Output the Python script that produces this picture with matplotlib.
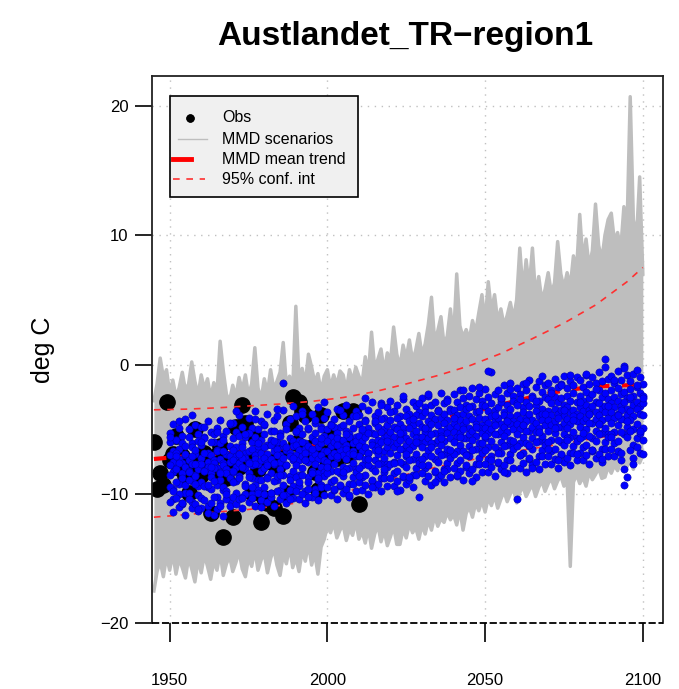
import numpy as np
import matplotlib
matplotlib.use('Agg')
import matplotlib.pyplot as plt
from matplotlib.lines import Line2D
from matplotlib.patches import Rectangle

plt.rcParams['font.family'] = ['Liberation Sans', 'DejaVu Sans']

# --- scenario envelope (grey), one value per year 1945-2100 ---
scen_years = np.arange(1945, 2101)
scen_hi = [-2.8, -1.5, 0.5, -1.0, -0.4, -2.2, -1.2, -2.5, -1.8, -0.6,
           -2.0, -1.5, 0.2, -1.3, -2.4, -0.8, -1.9, -1.1, -2.6, -1.4,
           -2.2, 1.8, -0.5, -2.3, -2.8, -1.6, -2.5, -1.0, -2.0, -0.8,
           -2.4, -1.5, 1.3, -1.8, -2.7, -1.1, -2.2, -0.4, -1.9, -1.3,
           -0.6, 1.7, -1.6, -0.9, -2.0, 4.5, -1.2, -0.3, -1.5, 0.8,
           -0.2, -1.4, -0.7, -2.1, -0.9, -0.4, -1.8, -0.8, -1.6, -0.5,
           -0.8, -2.0, -0.4, -1.3, -0.2, -0.9, -1.5, 0.6, -0.7, 2.5,
           -0.3, 0.4, 1.2, -0.6, 0.9, 0.2, 2.9, 0.8, -0.2, 1.5,
           0.5, 1.9, 0.3, 1.1, 2.4, 0.7, 1.6, 3.1, 5.2, 1.8,
           2.6, 3.7, 1.5, 2.2, 4.3, 2.0, 7.0, 3.0, 2.1, 2.7,
           1.9, 3.4, 2.5, 4.0, 5.4, 3.2, 6.4, 4.1, 5.4, 3.3,
           4.3, 3.0, 3.8, 4.8, 3.5, 5.0, 9.0, 5.6, 8.1, 6.0,
           9.0, 5.3, 6.8, 4.9, 5.8, 7.1, 5.5, 6.3, 9.5, 7.0,
           5.9, 7.1, 6.0, 8.4, 7.3, 11.6, 8.0, 9.7, 7.5, 8.8,
           12.4, 9.2, 8.1, 10.0, 11.2, 11.7, 9.5, 10.2, 8.9, 12.2,
           10.6, 20.7, 11.2, 9.8, 14.5, 7.0]
scen_lo = [-17.5, -16.0, -15.2, -16.4, -14.8, -15.9, -14.6, -16.2, -15.0, -15.7,
           -16.5, -14.9, -15.8, -16.8, -15.1, -16.1, -14.7, -15.6, -16.6, -15.2,
           -15.9, -14.5, -16.3, -15.4, -14.8, -16.0, -15.3, -14.4, -15.8, -16.4,
           -14.9, -15.6, -14.3, -15.9, -15.1, -14.6, -16.1, -15.0, -14.2, -15.5,
           -16.3, -14.7, -15.4, -14.0, -15.7, -14.9, -16.0, -14.4, -15.2, -13.8,
           -15.5, -14.6, -16.2, -14.1, -13.5, -12.5, -13.0, -12.2, -13.4, -12.8,
           -12.4, -13.6, -12.7, -13.2, -12.1, -13.5, -12.9, -13.8, -12.6, -14.2,
           -13.1, -12.4, -13.7, -12.8, -14.0, -13.3, -12.5, -13.9, -13.9, -12.7,
           -13.4, -12.3, -13.0, -12.6, -13.5, -12.4, -13.1, -12.0, -12.8, -11.7,
           -12.5, -11.9, -12.2, -11.4, -12.0, -11.6, -12.4, -11.2, -12.8, -11.5,
           -11.0, -11.8, -10.7, -11.3, -10.5, -11.4, -10.3, -10.9, -10.1, -11.1,
           -10.4, -9.8, -10.6, -10.0, -9.6, -10.7, -9.9, -9.4, -10.2, -9.7,
           -9.3, -10.2, -9.5, -9.0, -9.8, -9.2, -8.8, -9.6, -9.0, -8.6,
           -9.4, -8.9, -15.6, -9.1, -8.5, -9.2, -8.7, -9.4, -8.3, -8.9,
           -8.5, -8.0, -8.8, -8.7, -7.9, -8.4, -7.8, -8.2, -7.5, -8.0,
           -7.9, -7.4, -8.1, -7.3, -7.6, -7.0]

# --- observations 1945-2010 ---
obs_years = np.arange(1945, 2011)
obs = [-6.0, -9.6, -8.4, -9.3, -2.9, -7.4, -6.9, -5.5, -8.0, -7.1,
       -8.6, -9.9, -7.6, -5.0, -7.9, -8.5, -6.8, -7.7, -11.5, -8.2,
       -7.0, -6.3, -13.3, -8.8, -7.4, -11.8, -4.8, -7.9, -3.1, -4.5,
       -7.2, -9.9, -5.6, -8.1, -12.2, -10.3, -10.7, -7.5, -11.1, -8.0,
       -6.6, -11.7, -9.9, -4.5, -2.5, -6.1, -2.9, -3.6, -3.9, -7.0,
       -6.4, -8.3, -9.7, -3.9, -6.8, -7.4, -5.3, -6.0, -7.2, -6.5,
       -3.6, -7.0, -6.2, -3.6, -6.7, -10.8]

# --- downscaled members (blue), 1950-2100 ---
blue_years = np.arange(1950, 2101)
blue_a = [-5.3, -4.6, -5.8, -4.9, -5.5, -4.2, -5.0, -6.1, -4.7, -5.4,
          -4.8, -5.6, -4.4, -5.2, -6.0, -4.9, -4.3, -5.5, -5.1, -4.6,
          -4.5, -5.2, -3.9, -4.8, -5.6, -4.1, -4.9, -3.6, -5.0, -4.4,
          -4.7, -3.8, -5.1, -4.3, -4.0, -5.3, -3.5, -4.6, -4.2, -3.2,
          -4.0, -4.9, -3.6, -4.4, -5.0, -3.8, -4.5, -3.3, -4.8, -4.1,
          -3.7, -4.6, -4.2, -3.4, -4.8, -3.9, -3.1, -4.4, -4.0, -3.6,
          -3.9, -3.2, -4.3, -3.5, -2.9, -4.0, -3.7, -3.0, -4.1, -3.3,
          -2.8, -3.6, -3.1, -4.0, -2.7, -3.4, -3.8, -2.9, -3.2, -3.7,
          -2.6, -3.3, -2.4, -3.1, -2.9, -3.6, -2.2, -3.0, -2.7, -3.4,
          -2.3, -2.9, -2.0, -2.6, -3.1, -2.4, -1.8, -2.7, -2.2, -2.8,
          -1.9, -2.5, -0.6, -2.3, -2.0, -2.7, -1.6, -2.2, -1.4, -2.4,
          -1.8, -2.3, -1.5, -2.0, -1.2, -2.4, -1.7, -1.3, -2.1, -1.6,
          -1.4, -2.0, -1.1, -1.7, -1.5, -0.9, -1.8, -1.3, -1.6, -1.0,
          -1.2, -1.7, -0.8, -1.5, -1.0, -1.4, -0.6, -1.3, -0.2, -1.1,
          -0.9, -1.4, -0.5, -1.2, -0.1, -0.8, -1.3, -0.7, -0.4, -1.0,
          -1.5]
blue_b = [-6.0, -6.7, -5.8, -6.5, -6.1, -7.0, -5.6, -6.4, -6.9, -5.9,
          -6.2, -5.7, -6.8, -6.0, -5.4, -6.6, -6.1, -5.8, -6.9, -6.3,
          -5.7, -6.4, -5.5, -6.1, -6.8, -5.3, -6.0, -5.6, -6.5, -5.8,
          -5.4, -6.2, -5.8, -5.1, -6.0, -5.5, -6.3, -5.0, -5.7, -5.9,
          -5.2, -5.9, -5.4, -6.1, -4.9, -5.6, -5.3, -6.0, -5.0, -5.5,
          -5.0, -5.6, -4.8, -5.3, -5.8, -4.7, -5.1, -5.4, -4.9, -5.6,
          -4.6, -5.1, -4.4, -4.9, -5.3, -4.5, -4.8, -4.2, -5.0, -4.7,
          -4.3, -4.8, -4.1, -4.6, -4.9, -4.0, -4.4, -4.7, -3.9, -4.5,
          -4.0, -3.7, -4.4, -3.9, -4.2, -3.5, -4.1, -3.8, -4.3, -3.6,
          -3.5, -3.9, -3.3, -3.8, -3.4, -4.0, -3.2, -3.7, -3.6, -3.1,
          -3.2, -3.6, -3.0, -3.5, -3.3, -2.9, -3.7, -3.1, -3.4, -2.8,
          -3.0, -2.7, -3.3, -2.9, -3.2, -2.6, -3.1, -2.8, -3.4, -2.5,
          -2.7, -3.0, -2.5, -2.9, -2.6, -3.1, -2.4, -2.8, -2.2, -2.9,
          -2.4, -2.8, -2.1, -2.6, -2.3, -2.9, -2.0, -2.5, -2.2, -2.7,
          -2.0, -2.5, -1.8, -2.3, -2.1, -2.6, -1.9, -2.4, -1.7, -2.2,
          -2.4]
blue_c = [-7.0, -7.5, -6.8, -7.3, -7.6, -6.9, -7.4, -7.1, -6.6, -7.7,
          -7.2, -6.8, -7.5, -7.0, -7.4, -6.7, -7.3, -7.6, -6.9, -7.1,
          -6.6, -7.1, -6.9, -6.4, -7.2, -6.7, -6.5, -7.0, -6.3, -6.8,
          -6.4, -6.9, -6.2, -6.7, -6.5, -7.0, -6.1, -6.6, -6.8, -6.3,
          -6.2, -6.6, -6.0, -6.5, -6.3, -6.8, -5.9, -6.4, -6.1, -6.7,
          -5.9, -6.3, -6.0, -5.7, -6.4, -5.8, -6.2, -5.6, -6.1, -5.9,
          -5.5, -5.9, -5.6, -5.3, -6.0, -5.4, -5.8, -5.2, -5.7, -5.5,
          -5.2, -5.6, -5.0, -5.5, -5.3, -5.7, -4.9, -5.4, -5.1, -5.6,
          -4.8, -5.2, -4.9, -4.6, -5.3, -4.7, -5.1, -4.5, -5.0, -4.8,
          -4.5, -4.8, -4.3, -4.7, -4.4, -4.9, -4.2, -4.6, -4.1, -4.7,
          -4.2, -4.5, -4.0, -4.4, -4.1, -4.6, -3.9, -4.3, -4.0, -4.4,
          -3.9, -4.2, -3.7, -4.1, -3.8, -4.3, -3.6, -4.0, -3.8, -4.1,
          -3.6, -3.9, -3.4, -3.8, -3.5, -4.0, -3.3, -3.7, -3.5, -3.8,
          -3.3, -3.6, -3.1, -3.5, -3.2, -3.7, -3.0, -3.4, -3.2, -3.5,
          -3.0, -3.3, -2.8, -3.2, -2.9, -3.4, -2.7, -3.1, -2.9, -3.2,
          -3.0]
blue_d = [-7.8, -8.3, -8.0, -7.6, -8.4, -7.9, -8.2, -7.7, -8.5, -8.1,
          -7.7, -8.2, -7.9, -8.4, -7.6, -8.0, -8.3, -7.8, -8.1, -7.5,
          -7.4, -7.9, -7.6, -7.2, -8.0, -7.5, -7.8, -7.3, -7.7, -7.4,
          -7.2, -7.6, -7.3, -7.7, -7.0, -7.5, -7.2, -7.8, -7.1, -7.4,
          -7.0, -7.4, -7.1, -6.8, -7.5, -7.2, -6.9, -7.3, -7.0, -7.4,
          -6.7, -7.1, -6.8, -7.2, -6.6, -7.0, -6.5, -6.9, -6.7, -7.1,
          -6.3, -6.7, -6.4, -6.8, -6.2, -6.6, -6.3, -6.0, -6.7, -6.4,
          -6.0, -6.4, -6.1, -5.8, -6.5, -6.2, -5.9, -6.3, -5.7, -6.1,
          -5.6, -6.0, -5.7, -5.4, -6.1, -5.8, -5.5, -5.9, -5.3, -5.7,
          -5.2, -5.6, -5.3, -5.0, -5.7, -5.4, -5.1, -5.5, -4.9, -5.3,
          -4.9, -5.3, -5.0, -4.7, -5.4, -5.1, -4.8, -5.2, -4.6, -5.0,
          -4.6, -5.0, -4.7, -4.4, -5.1, -4.8, -4.5, -4.9, -4.3, -4.7,
          -4.3, -4.7, -4.4, -4.1, -4.8, -4.5, -4.2, -4.6, -4.0, -4.4,
          -4.0, -4.4, -4.1, -3.8, -4.5, -4.2, -3.9, -4.3, -3.7, -4.1,
          -3.7, -4.1, -3.8, -3.5, -4.2, -3.9, -3.6, -4.0, -3.4, -3.8,
          -3.9]
blue_e = [-8.5, -9.6, -8.1, -9.2, -8.8, -9.9, -8.3, -9.0, -8.6, -9.4,
          -9.1, -8.2, -9.5, -8.7, -8.0, -9.3, -8.9, -9.7, -8.4, -8.8,
          -8.3, -9.0, -8.6, -7.9, -9.2, -8.4, -8.8, -7.7, -8.9, -8.2,
          -8.0, -8.7, -8.4, -7.6, -8.9, -8.1, -8.5, -7.8, -8.6, -8.2,
          -7.8, -8.5, -8.0, -7.4, -8.7, -8.2, -7.7, -8.4, -7.9, -8.3,
          -7.5, -8.2, -7.7, -7.1, -8.4, -7.9, -7.3, -8.0, -7.6, -8.1,
          -7.1, -7.8, -7.3, -6.8, -8.0, -7.4, -6.9, -7.6, -7.2, -7.7,
          -6.8, -7.5, -7.0, -6.5, -7.7, -7.1, -6.6, -7.3, -6.9, -7.4,
          -6.4, -7.1, -6.6, -6.1, -7.3, -6.7, -6.2, -6.9, -6.5, -7.0,
          -6.0, -6.7, -6.2, -5.7, -6.9, -6.3, -5.8, -6.5, -6.1, -6.6,
          -5.7, -6.4, -5.9, -5.4, -6.6, -6.0, -5.5, -6.2, -5.8, -6.3,
          -5.4, -6.1, -5.6, -5.1, -6.3, -5.7, -5.2, -5.9, -5.5, -6.0,
          -5.1, -5.8, -5.3, -4.8, -6.0, -5.4, -4.9, -5.6, -5.2, -5.7,
          -4.8, -5.5, -5.0, -4.5, -5.7, -5.1, -4.6, -5.3, -4.9, -5.4,
          -4.5, -5.2, -4.7, -4.2, -5.4, -4.8, -4.3, -5.0, -4.6, -5.1,
          -4.9]
blue_f = [-9.5, -10.4, -9.1, -10.0, -10.8, -9.3, -9.9, -10.6, -9.2, -10.1,
          -10.3, -9.4, -10.9, -9.6, -9.0, -10.2, -10.7, -9.5, -9.8, -10.5,
          -9.1, -9.9, -8.8, -10.2, -9.4, -8.7, -10.0, -9.3, -9.7, -8.9,
          -9.5, -8.8, -9.9, -9.0, -8.6, -9.7, -9.3, -10.1, -8.9, -9.4,
          -8.7, -9.4, -8.5, -9.8, -9.1, -8.4, -9.6, -8.9, -9.3, -8.6,
          -8.4, -9.1, -8.9, -8.2, -9.4, -8.6, -8.1, -9.2, -8.7, -8.3,
          -8.0, -8.7, -8.5, -7.8, -9.0, -8.2, -7.7, -8.8, -8.3, -7.9,
          -7.7, -8.4, -8.2, -7.5, -8.7, -7.9, -7.4, -8.5, -8.0, -7.6,
          -7.3, -8.0, -7.8, -7.1, -8.3, -7.5, -7.0, -8.1, -7.6, -7.2,
          -6.9, -7.6, -7.4, -6.7, -7.9, -7.1, -6.6, -7.7, -7.2, -6.8,
          -6.6, -7.3, -7.1, -6.4, -7.6, -6.8, -6.3, -7.4, -6.9, -6.5,
          -6.3, -7.0, -6.8, -6.1, -7.3, -6.5, -6.0, -7.1, -6.6, -6.2,
          -6.0, -6.7, -6.5, -5.8, -7.0, -6.2, -5.7, -6.8, -6.3, -5.9,
          -5.7, -6.4, -6.2, -5.5, -6.7, -5.9, -5.4, -6.5, -6.0, -5.6,
          -5.4, -6.1, -5.9, -5.2, -8.1, -5.6, -5.1, -6.2, -5.7, -5.3,
          -5.8]
blue_g = [-10.6, -11.4, -10.3, -11.0, -10.7, -11.6, -10.4, -11.1, -10.8, -11.3,
          -11.1, -10.5, -11.5, -10.7, -10.2, -11.2, -10.9, -11.7, -10.4, -10.9,
          -10.2, -10.8, -10.4, -11.1, -10.0, -10.6, -10.3, -10.9, -9.9, -10.5,
          -10.0, -10.6, -10.2, -10.9, -9.8, -10.4, -10.1, -10.7, -9.7, -10.3,
          -9.8, -10.4, -10.0, -10.7, -9.6, -10.2, -9.9, -10.5, -9.5, -10.1,
          -9.5, -10.1, -9.7, -10.4, -9.3, -9.9, -9.6, -10.2, -9.2, -9.8,
          -9.1, -9.7, -9.3, -10.0, -8.9, -9.5, -9.2, -9.8, -8.8, -9.4,
          -8.8, -9.4, -9.0, -9.7, -8.6, -9.2, -8.9, -9.5, -8.5, -10.2,
          -8.4, -9.0, -8.6, -9.3, -8.2, -8.8, -8.5, -9.1, -8.1, -8.7,
          -8.0, -8.6, -8.2, -8.9, -7.8, -8.4, -8.1, -8.7, -7.7, -8.3,
          -7.7, -8.3, -7.9, -8.6, -7.5, -8.1, -7.8, -8.4, -7.4, -8.0,
          -10.4, -8.0, -7.6, -8.3, -7.2, -7.8, -7.5, -8.1, -7.1, -7.7,
          -7.1, -7.7, -7.3, -8.0, -6.9, -7.5, -7.2, -7.8, -6.8, -7.4,
          -6.8, -7.4, -7.0, -7.7, -6.6, -7.2, -6.9, -7.5, -6.5, -7.1,
          -6.5, -7.1, -6.7, -7.4, -9.3, -8.7, -6.6, -7.2, -6.4, -6.8,
          -6.9]
blue_h = [-5.6, -9.8, -7.1, -4.4, -10.7, -6.3, -8.9, -3.9, -7.7, -11.2,
          -6.0, -4.8, -9.3, -7.9, -11.6, -5.2, -8.4, -6.7, -10.0, -4.5,
          -8.2, -3.6, -6.9, -10.3, -5.4, -7.6, -9.5, -4.2, -6.1, -11.0,
          -4.6, -7.8, -9.9, -5.9, -3.4, -8.5, -1.4, -6.4, -10.4, -7.2,
          -5.1, -9.1, -3.8, -7.4, -10.2, -6.5, -4.3, -8.8, -5.7, -2.9,
          -7.9, -4.7, -9.6, -6.2, -3.5, -8.3, -5.4, -10.1, -6.9, -4.0,
          -8.6, -5.0, -2.6, -7.3, -9.5, -4.4, -6.6, -3.1, -8.1, -5.9,
          -3.7, -7.6, -9.8, -5.3, -2.4, -6.9, -8.7, -4.2, -6.0, -3.0,
          -7.8, -4.9, -2.3, -6.4, -9.1, -3.6, -5.7, -8.2, -2.8, -6.6,
          -4.1, -8.5, -5.6, -2.0, -7.0, -3.3, -9.0, -4.8, -1.7, -6.1,
          -5.5, -0.5, -7.4, -3.9, -6.8, -2.6, -8.3, -4.4, -1.9, -5.9,
          -3.1, -7.0, -4.7, -1.4, -6.2, -8.0, -2.8, -5.2, -0.9, -3.8,
          -6.5, -2.2, -4.9, -7.4, -1.6, -3.5, -5.8, -0.8, -4.3, -6.9,
          -2.9, -5.3, -0.7, -3.8, -6.6, -1.9, -4.6, -7.3, 0.4, -3.2,
          -5.6, -1.2, -3.9, -6.8, -0.3, -4.4, -2.5, -7.7, -1.6, -5.1,
          -2.6]

# --- mean trend and 95% interval ---
trend_years = [1945, 1955, 1965, 1975, 1985, 1995, 2005, 2015, 2025,
               2035, 2045, 2055, 2065, 2075, 2085, 2095, 2100]
trend = [-7.3, -7.1, -6.9, -6.7, -6.5, -6.3, -5.9, -5.4, -4.9,
         -4.3, -3.7, -3.1, -2.5, -2.0, -1.7, -1.6, -1.5]
ci_hi = [-3.5, -3.45, -3.35, -3.2, -3.05, -2.85, -2.55, -2.1, -1.5,
         -0.85, -0.1, 0.85, 2.0, 3.2, 4.6, 6.4, 7.5]
ci_lo = [-11.8, -11.6, -11.4, -11.2, -10.9, -10.5, -9.9, -9.2, -8.5,
         -7.9, -7.4, -6.9, -6.5, -6.1, -5.7, -5.3, -5.0]

W, H = 679, 689
fig = plt.figure(figsize=(W / 100, H / 100), dpi=100)
ax = fig.add_axes([152 / W, 1 - 623.3 / H, (662.7 - 152) / W, (623.3 - 76) / H])

grey = '#bebebe'
ax.fill_between(scen_years, scen_lo, scen_hi, color=grey, lw=0, zorder=1)
ax.plot(scen_years, scen_hi, color=grey, lw=2.5, zorder=1)
ax.plot(scen_years, scen_lo, color=grey, lw=2.5, zorder=1)

ax.plot(obs_years, obs, 'o', color='black', ms=11, zorder=2)

ax.plot(trend_years, trend, color='red', lw=3, dashes=(3, 3), zorder=3)
ax.plot(trend_years, ci_hi, color='#ff3030', lw=1.2, dashes=(4, 4), zorder=3)
ax.plot(trend_years, ci_lo, color='#ff3030', lw=1.2, dashes=(4, 4), zorder=3)

for row in [blue_a, blue_b, blue_c, blue_d, blue_e, blue_f, blue_g, blue_h]:
    ax.plot(blue_years, row, 'o', color='blue', mec='#0000aa', mew=0.4,
            ms=5.2, zorder=4)

ax.set_xlim(1944.4, 2106.3)
ax.set_ylim(-20, 22.3)
ax.set_xticks([1950, 2000, 2050, 2100])
ax.set_yticks([-20, -10, 0, 10, 20])
ax.grid(True, color='#c0c0c0', linestyle=(0, (1, 4)), lw=1)
ax.set_axisbelow(True)

for s in ['top', 'left', 'right']:
    ax.spines[s].set_linewidth(1.3)
    ax.spines[s].set_color('#222222')
ax.spines['bottom'].set_visible(False)
ax.axhline(-20, color='black', lw=1.3, dashes=(4, 1.5), zorder=6, clip_on=False)

ax.tick_params(axis='y', length=12, width=1.2, pad=5, labelsize=12)
ax.tick_params(axis='x', length=14, width=1.2, pad=22, labelsize=12)

ax.set_ylabel('deg C', fontsize=18)
ax.yaxis.set_label_coords(-0.19, 0.5)
fig.text(405 / W, 1 - 37 / H, 'Austlandet_TR\u2212region1', ha='center',
         va='center', fontsize=24, fontweight='bold')


# legend box, drawn by hand in figure pixels (y measured from the top)
def fx(px):
    return px / W


def fy(py):
    return 1 - py / H


fig.patches.append(Rectangle((fx(170), fy(197)), fx(358) - fx(170), fy(96) - fy(197),
                             transform=fig.transFigure, facecolor='#f0f0f0',
                             edgecolor='black', lw=1.2, zorder=10))
leg_items = [
    ('Obs', 118, dict(marker='o', ls='none', color='black', ms=5), (190, 190)),
    ('MMD scenarios', 139, dict(color=grey, lw=1), (178, 207)),
    ('MMD mean trend', 159, dict(color='red', lw=3.5), (173, 191)),
    ('95% conf. int', 179, dict(color='#ff3030', lw=1.2, dashes=(4, 4)), (173, 205)),
]
for label, py, style, (x0, x1) in leg_items:
    fig.lines.append(Line2D([fx(x0), fx(x1)], [fy(py), fy(py)],
                            transform=fig.transFigure, zorder=11, **style))
    fig.text(fx(222), fy(py), label, fontsize=11.5, va='center', ha='left', zorder=11)

fig.savefig('out.png', dpi=100)
